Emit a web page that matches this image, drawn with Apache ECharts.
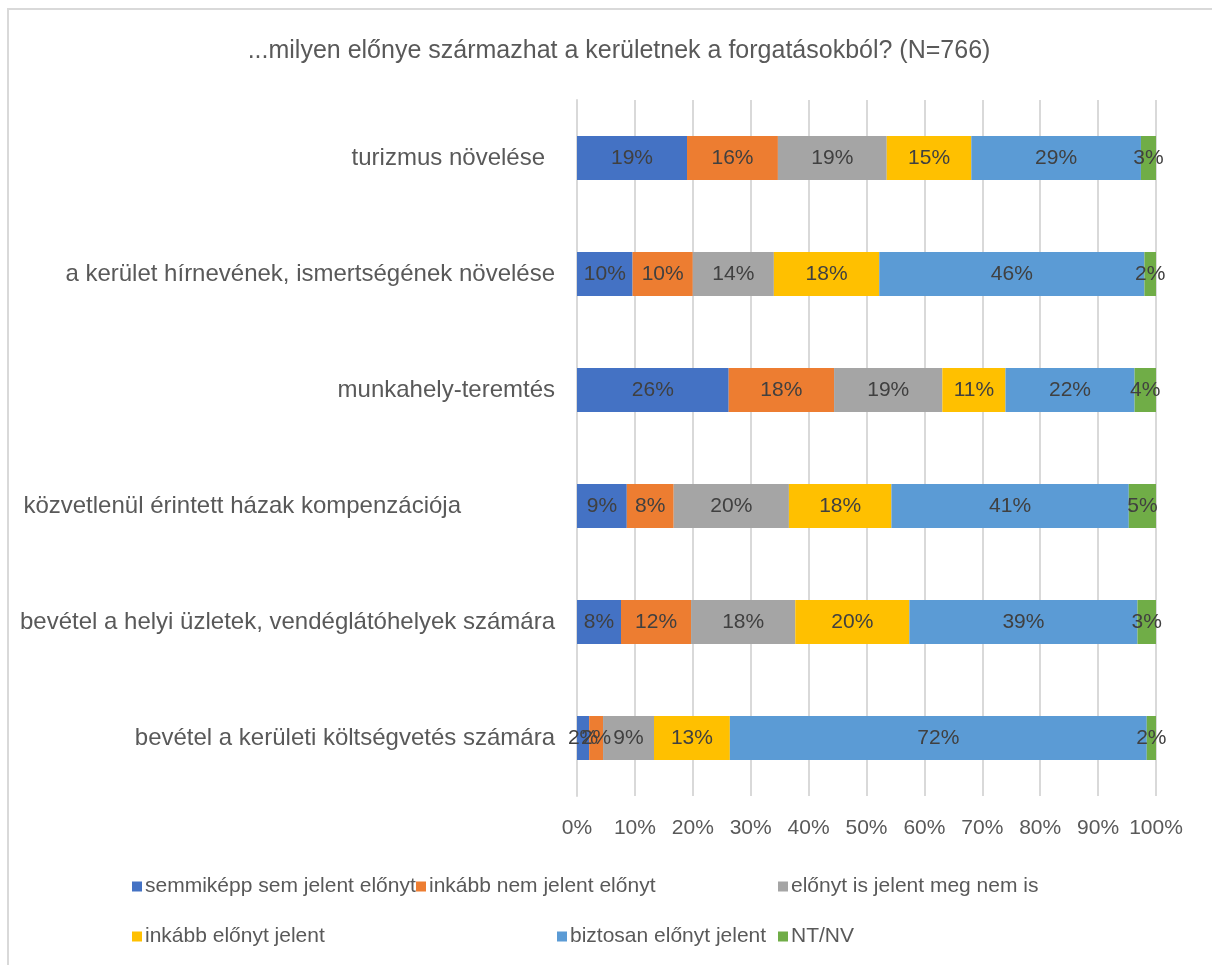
<!DOCTYPE html>
<html>
<head>
<meta charset="utf-8">
<script src="https://cdn.jsdelivr.net/npm/echarts@6/dist/echarts.min.js"></script>
<style>
  html, body { margin: 0; padding: 0; background: #fff; }
  #frame { position: absolute; left: 7px; top: 8px; width: 1220px; height: 980px; border: 2px solid #d9d9d9; box-sizing: border-box; }
  #main { position: absolute; left: 0; top: 0; width: 1212px; height: 965px; }
</style>
</head>
<body>
<div id="frame"></div>
<div id="main"></div>
<script>
var categories = [
  'turizmus növelése',
  'a kerület hírnevének, ismertségének növelése',
  'munkahely-teremtés',
  'közvetlenül érintett házak kompenzációja',
  'bevétel a helyi üzletek, vendéglátóhelyek számára',
  'bevétel a kerületi költségvetés számára'
];
var seriesNames = [
  'semmiképp sem jelent előnyt',
  'inkább nem jelent előnyt',
  'előnyt is jelent meg nem is',
  'inkább előnyt jelent',
  'biztosan előnyt jelent',
  'NT/NV'
];
// percentages, one array per answer, in category order
var semmikepp = [19.0, 9.6, 26.2, 8.6, 7.6, 2.1];
var inkabbNem = [15.7, 10.4, 18.2, 8.1, 12.1, 2.4];
var isIsNem   = [18.8, 14.0, 18.7, 19.9, 18.0, 8.8];
var inkabbIgen = [14.6, 18.2, 10.9, 17.7, 19.7, 13.1];
var biztosan  = [29.3, 45.8, 22.3, 41.0, 39.4, 72.0];
var ntnv      = [2.6, 2.0, 3.7, 4.7, 3.2, 1.6];
var xTicks = [0, 10, 20, 30, 40, 50, 60, 70, 80, 90, 100];

var colors = ['#4472C4', '#ED7D31', '#A5A5A5', '#FFC000', '#5B9BD5', '#70AD47'];
var allData = [semmikepp, inkabbNem, isIsNem, inkabbIgen, biztosan, ntnv];
var FONT = '"Liberation Sans", Arial, sans-serif';

var chart = echarts.init(document.getElementById('main'));

var series = seriesNames.map(function (name, i) {
  return {
    name: name,
    type: 'bar',
    stack: 'total',
    barWidth: 44,
    itemStyle: { color: colors[i] },
    label: {
      show: true,
      position: 'inside',
      color: '#404040',
      fontSize: 21,
      fontFamily: FONT,
      formatter: function (p) { return Math.round(p.value) + '%'; }
    },
    data: allData[i]
  };
});

// legend placement, Excel-like (two rows, three columns)
var legendPos = [[132, 876], [416, 876], [778, 876], [132, 926], [557, 926], [778, 926]];
var legends = seriesNames.map(function (name, i) {
  return {
    data: [name],
    left: legendPos[i][0],
    top: legendPos[i][1],
    itemWidth: 10,
    itemHeight: 10,
    itemGap: 0,
    padding: 0,
    icon: 'rect',
    textStyle: { color: '#595959', fontSize: 21, fontFamily: FONT, padding: [0, 0, 0, -2] }
  };
});

chart.setOption({
  animation: false,
  title: {
    text: '...milyen előnye származhat a kerületnek a forgatásokból? (N=766)',
    left: 614,
    textAlign: 'center',
    top: 34,
    textStyle: { color: '#595959', fontSize: 25, fontWeight: 'normal', fontFamily: FONT }
  },
  legend: legends,
  grid: { left: 577, right: 56, top: 100, bottom: 169 },
  xAxis: {
    type: 'value',
    min: 0,
    max: 100,
    interval: 10,
    axisLine: { show: false },
    axisTick: { show: false },
    splitLine: { show: true, lineStyle: { color: '#d9d9d9', width: 2 } },
    axisLabel: {
      color: '#595959',
      fontSize: 21,
      fontFamily: FONT,
      margin: 22,
      formatter: function (v) { return xTicks.indexOf(v) >= 0 ? v + '%' : ''; }
    }
  },
  yAxis: {
    type: 'category',
    inverse: true,
    data: categories,
    axisLine: { show: true, lineStyle: { color: '#d9d9d9', width: 2 } },
    axisTick: { show: false },
    axisLabel: {
      color: '#595959',
      fontSize: 24,
      fontFamily: FONT,
      margin: 22,
      formatter: function (v, idx) {
        if (idx === 3) return '{pad|' + v + '}';
        if (idx === 0) return '{pad0|' + v + '}';
        return v;
      },
      rich: {
        pad: { fontSize: 24, fontFamily: FONT, color: '#595959', padding: [0, 94, 0, 0] },
        pad0: { fontSize: 24, fontFamily: FONT, color: '#595959', padding: [0, 10, 0, 0] }
      }
    }
  },
  series: series
});
</script>
</body>
</html>
